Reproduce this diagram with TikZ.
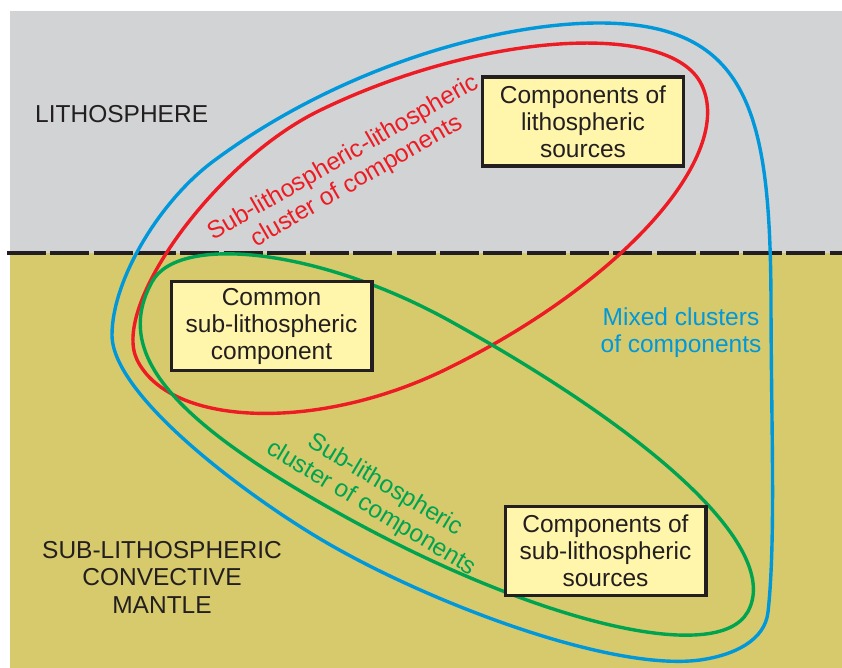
\documentclass[tikz,border=0pt]{standalone}
\usepackage{fontspec}
\setmainfont{Liberation Sans}
\definecolor{skygray}{RGB}{209,211,212}
\definecolor{mantlecol}{RGB}{214,202,108}
\definecolor{boxfill}{RGB}{255,246,172}
\definecolor{inkdark}{RGB}{35,31,32}
\definecolor{cblue}{RGB}{0,152,218}
\definecolor{cred}{RGB}{237,28,36}
\definecolor{cgreen}{RGB}{0,164,80}
\tikzset{
  txt/.style={font=\fontsize{24.5}{27}\selectfont, inner sep=0pt, align=center},
  compbox/.style={txt, draw=inkdark, line width=3.3pt, fill=boxfill, text=inkdark,
    minimum width=200.7pt, minimum height=89pt},
  loop/.style={line width=3.4pt},
  boundary/.style={draw=inkdark, line width=4pt, dash pattern=on 39pt off 4.3pt}
}
\begin{document}
\begin{tikzpicture}[x=1pt,y=-1pt]
\useasboundingbox (0,0) rectangle (842,668);
\fill[skygray] (10,11) rectangle (842,253);
\fill[mantlecol] (10,253) rectangle (842,668);
\coordinate (dl) at (7,252.5);
\coordinate (dr) at (842,252.5);
\draw[boundary] (dl) -- (dr);

% blue: mixed clusters
\draw[loop, cblue] (599,23) .. controls (750,23) and (770,115) .. (771,300)
 .. controls (771,420) and (776,540) .. (768,612)
 .. controls (765,640) and (735,655) .. (700,660)
 .. controls (610,672) and (425,601) .. (322,540)
 .. controls (244.5,494.2) and (112,395) .. (112,335)
 .. controls (112,280) and (160,200) .. (215,160)
 .. controls (343.6,65) and (500,23) .. cycle;

% red: sub-lithospheric-lithospheric cluster
\begin{scope}[shift={(382.4,240.1)}, rotate=26]
\draw[loop, cred] (355pt,0pt) .. controls (355pt,72pt) and (178pt,144pt) .. (0pt,144pt)
 .. controls (-115pt,144pt) and (-273pt,60pt) .. (-273pt,0pt)
 .. controls (-273pt,-75pt) and (-142pt,-144pt) .. (0pt,-144pt)
 .. controls (195pt,-144pt) and (355pt,-79pt) .. cycle;
\end{scope}

% green: sub-lithospheric cluster
\begin{scope}[shift={(449.5,446.5)}, rotate=-29]
\draw[loop, cgreen] (341pt,0pt) .. controls (341pt,70pt) and (180pt,110pt) .. (-60pt,110pt)
 .. controls (-210pt,110pt) and (-340pt,55pt) .. (-340pt,0pt)
 .. controls (-340pt,-80pt) and (-260pt,-112pt) .. (-60pt,-112pt)
 .. controls (161pt,-112pt) and (341pt,-62pt) .. cycle;
\end{scope}

\node[compbox] (lithsrc) at (583,121.5) {Components of\\lithospheric\\sources};
\node[compbox] (common) at (271.5,326) {Common\\sub-lithospheric\\component};
\node[compbox] (sublithsrc) at (605.5,551) {Components of\\sub-lithospheric\\sources};

\node[txt, text=inkdark, anchor=base west] (lith) at (35,122.5) {LITHOSPHERE};
\node[txt, text=inkdark, font=\fontsize{24.5}{27.5}\selectfont] (mantle) at (162,577) {SUB-LITHOSPHERIC\\CONVECTIVE\\MANTLE};
\node[txt, text=cblue] (mixed) at (681,333) {Mixed clusters\\of components};
\node[txt, text=cred, rotate=30] (redlab) at (350,170) {Sub-lithospheric-lithospheric\\cluster of components};
\node[txt, text=cgreen, rotate=-31] (greenlab) at (378,497) {Sub-lithospheric\\cluster of components};
\end{tikzpicture}
\end{document}
